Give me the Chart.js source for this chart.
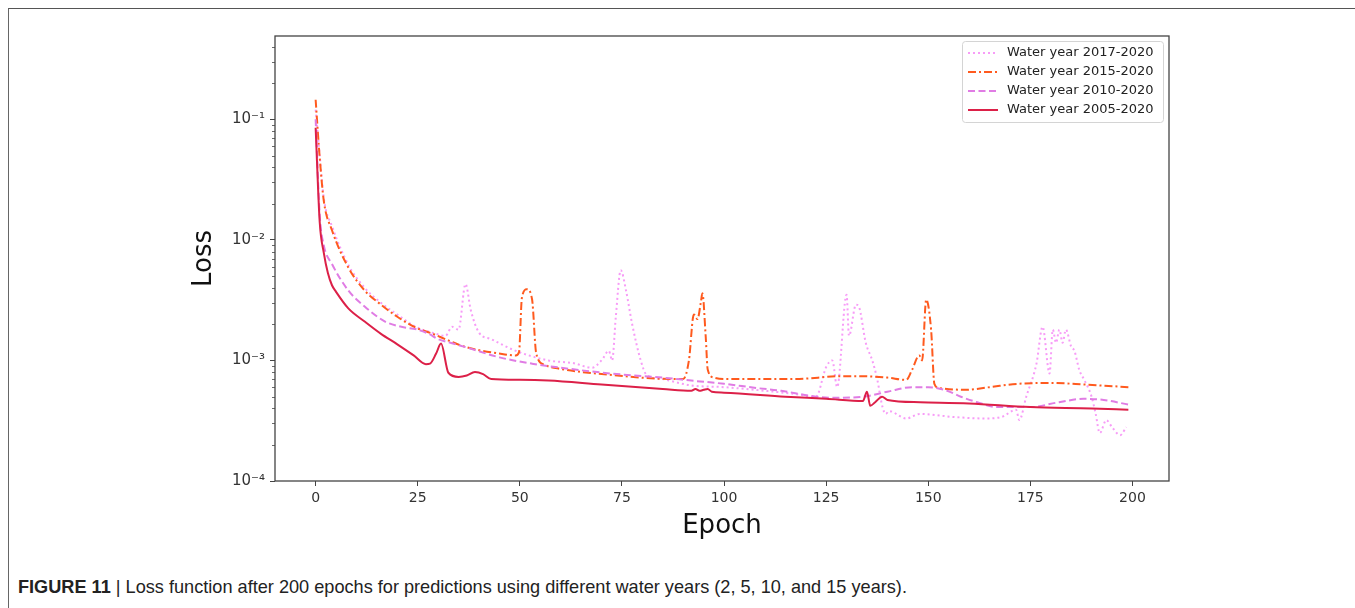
<!DOCTYPE html>
<html>
<head>
<meta charset="utf-8">
<script src="https://cdn.jsdelivr.net/npm/chart.js@4/dist/chart.umd.min.js"></script>
<style>
  body { margin: 0; background: #fff; width: 1355px; height: 608px; overflow: hidden; position: relative; }
  #frame { position: absolute; left: 8px; top: 8px; width: 1400px; height: 700px;
           border-top: 1.5px solid #555; border-left: 1.5px solid #666; }
  #wrap { position: absolute; left: 0; top: 0; }
  #caption { position: absolute; left: 18px; top: 576px; font-family: "Liberation Sans Narrow", "Liberation Sans", sans-serif;
             font-size: 19px; color: #222; white-space: nowrap; transform: scaleX(0.955); transform-origin: left top; }
  #caption b { font-weight: bold; }
</style>
</head>
<body>
<div id="frame"></div>
<div id="wrap"><canvas id="myChart" width="1355" height="560"></canvas></div>
<div id="caption"><b>FIGURE 11</b> | Loss function after 200 epochs for predictions using different water years (2, 5, 10, and 15 years).</div>
<script>
const seriesNames = ['Water year 2017-2020', 'Water year 2015-2020', 'Water year 2010-2020', 'Water year 2005-2020'];

const epochs2017 = [0, 1, 2, 4, 8, 12, 16, 20, 24.5, 28.5, 31.8, 33.4, 35, 36.7, 38, 40, 43, 49, 57, 63, 67.7, 70, 71.8, 72.6, 73.5, 74.7, 76, 77.5, 79.6, 81, 84, 92, 100, 110, 116.7, 122.5, 125, 126.5, 127.7, 130, 130.6, 132.3, 133, 134.7, 136.3, 137.5, 138.8, 139.6, 140.4, 144.6, 148, 156, 164, 168, 171.5, 172.3, 174, 176.5, 178, 179.7, 180.5, 181.3, 182.1, 182.9, 183.7, 185, 185.8, 187, 188.2, 190, 191, 192, 193.6, 195, 197, 198.5];
const loss2017 = [0.12, 0.05, 0.022, 0.013, 0.0062, 0.004, 0.003, 0.0024, 0.0019, 0.0017, 0.0016, 0.0019, 0.0018, 0.0043, 0.0026, 0.0017, 0.0015, 0.0012, 0.001, 0.00095, 0.00087, 0.001, 0.0012, 0.001, 0.0023, 0.0056, 0.0038, 0.002, 0.001, 0.00076, 0.00071, 0.00062, 0.0006, 0.00056, 0.00053, 0.0005, 0.00088, 0.001, 0.0006, 0.0035, 0.0016, 0.0029, 0.0028, 0.0014, 0.001, 0.0007, 0.00041, 0.00036, 0.00038, 0.00033, 0.00036, 0.00034, 0.00033, 0.00034, 0.00039, 0.00032, 0.0005, 0.00094, 0.0019, 0.00078, 0.0018, 0.0014, 0.0018, 0.0014, 0.0018, 0.0013, 0.0012, 0.00083, 0.00069, 0.0005, 0.00036, 0.00025, 0.00032, 0.00028, 0.00024, 0.00028];

const epochs2015 = [0, 1, 2, 4, 8, 12, 16, 20, 24.5, 28.5, 32.6, 36.8, 45, 49, 49.8, 50.5, 51.7, 53, 54, 56, 60, 72, 88, 90, 91.4, 92.6, 93.5, 94.3, 94.7, 95.5, 96, 97.5, 100, 117, 129, 133, 140, 144.6, 146, 147.8, 148.5, 149.5, 150.7, 151.5, 152.7, 159, 165, 172, 180, 188.6, 199];
const loss2015 = [0.145, 0.048, 0.021, 0.012, 0.0059, 0.0038, 0.0029, 0.0023, 0.00187, 0.00167, 0.00146, 0.00129, 0.00114, 0.0011, 0.00117, 0.0033, 0.0039, 0.0032, 0.00115, 0.00092, 0.00085, 0.00076, 0.0007, 0.0007, 0.001, 0.0024, 0.0022, 0.003, 0.0036, 0.0016, 0.00084, 0.00072, 0.0007, 0.0007, 0.00074, 0.00074, 0.00072, 0.00069, 0.00083, 0.0011, 0.001, 0.0032, 0.0018, 0.00064, 0.00059, 0.00057, 0.0006, 0.00064, 0.00065, 0.00063, 0.0006];

const epochs2010 = [0, 1, 2, 4, 8, 12, 17, 21, 25, 27.7, 30, 33, 37, 45, 53, 60, 72, 85, 92, 100, 108, 114, 121, 126, 134, 140, 146, 150, 154, 158, 162, 167, 175, 182, 188, 193, 199];
const loss2010 = [0.1, 0.016, 0.009, 0.0063, 0.0038, 0.0028, 0.0021, 0.0019, 0.0018, 0.00166, 0.0015, 0.0014, 0.00128, 0.00106, 0.00094, 0.00087, 0.00078, 0.00072, 0.00068, 0.00064, 0.00059, 0.00056, 0.00051, 0.00049, 0.0005, 0.00055, 0.0006, 0.0006, 0.00057, 0.0005, 0.00045, 0.00041, 0.00041, 0.00045, 0.00048, 0.00047, 0.00043];

const epochs2005 = [0, 1, 2, 3, 4, 5, 8, 12, 16, 20, 24, 27, 28, 29.5, 30.7, 32.5, 35, 37, 39, 41, 43, 50, 57, 70, 85, 92, 93, 94, 95, 96, 97, 100, 115, 125, 134, 135, 135.8, 137, 138.7, 140, 148, 160, 175, 190, 199];
const loss2005 = [0.085, 0.014, 0.0078, 0.0053, 0.0042, 0.0037, 0.0027, 0.0021, 0.00166, 0.00136, 0.0011, 0.00093, 0.00094, 0.00114, 0.00138, 0.00079, 0.00073, 0.00075, 0.0008, 0.00077, 0.0007, 0.00069, 0.00068, 0.00063, 0.00058, 0.00056, 0.00058, 0.00056, 0.00057, 0.00058, 0.00055, 0.00054, 0.0005, 0.00048, 0.00046, 0.00055, 0.00042, 0.00045, 0.0005, 0.00047, 0.00045, 0.00044, 0.00041, 0.0004, 0.00039];

const xTicks = [0, 25, 50, 75, 100, 125, 150, 175, 200];
const yTicks = [1e-4, 1e-3, 1e-2, 1e-1];
const yTickLabels = ['10\u207B\u2074', '10\u207B\u00B3', '10\u207B\u00B2', '10\u207B\u00B9'];

const pts = (xs, ys) => xs.map((x, i) => ({x: x, y: ys[i]}));

// matplotlib-like extras: full box, minor log ticks, legend inside the axes
const extras = {
    id: 'extras',
    afterDatasetsDraw(chart) {
        const ctx = chart.ctx;
        const a = chart.chartArea;
        const ys = chart.scales.y;
        ctx.save();
        // minor ticks
        ctx.strokeStyle = '#444';
        ctx.lineWidth = 0.8;
        for (let e = -4; e < 0; e++) {
            for (let m = 2; m < 10; m++) {
                const v = m * Math.pow(10, e);
                if (v > ys.max) continue;
                const py = Math.round(ys.getPixelForValue(v)) + 0.5;
                ctx.beginPath();
                ctx.moveTo(a.left - 3, py);
                ctx.lineTo(a.left, py);
                ctx.stroke();
            }
        }
        // spines
        ctx.strokeStyle = '#444';
        ctx.lineWidth = 1.3;
        ctx.strokeRect(a.left, a.top, a.right - a.left, a.bottom - a.top);

        // legend
        const bx = a.right - 207, by = a.top + 5, bw = 201, bh = 81;
        ctx.fillStyle = 'rgba(255,255,255,0.85)';
        ctx.strokeStyle = '#d4d4d4';
        ctx.lineWidth = 1;
        ctx.beginPath();
        ctx.roundRect(bx + 0.5, by + 0.5, bw, bh, 3);
        ctx.fill();
        ctx.stroke();
        ctx.font = '13px "DejaVu Sans"';
        ctx.textBaseline = 'middle';
        chart.data.datasets.forEach((ds, i) => {
            const ly = by + 12 + i * 19;
            ctx.strokeStyle = ds.borderColor;
            ctx.lineWidth = ds.borderWidth;
            ctx.setLineDash(ds.borderDash || []);
            ctx.beginPath();
            ctx.moveTo(bx + 6, ly);
            ctx.lineTo(bx + 36, ly);
            ctx.stroke();
            ctx.setLineDash([]);
            ctx.fillStyle = '#222';
            ctx.fillText(ds.label, bx + 45, ly);
        });
        ctx.restore();
    }
};

const ctx = document.getElementById('myChart').getContext('2d');

const myChart = new Chart(ctx, {
    type: 'line',
    data: {
        datasets: [{
            label: seriesNames[0],
            data: pts(epochs2017, loss2017),
            borderColor: '#f79cf7',
            borderWidth: 2,
            borderDash: [2, 3],
            order: 4
        }, {
            label: seriesNames[1],
            data: pts(epochs2015, loss2015),
            borderColor: '#ff5a1e',
            borderWidth: 2,
            borderDash: [8, 3, 2, 3],
            order: 3
        }, {
            label: seriesNames[2],
            data: pts(epochs2010, loss2010),
            borderColor: '#e07ce4',
            borderWidth: 2,
            borderDash: [7, 3.5],
            order: 2
        }, {
            label: seriesNames[3],
            data: pts(epochs2005, loss2005),
            borderColor: '#dc2048',
            borderWidth: 2,
            order: 1
        }]
    },
    options: {
        responsive: false,
        maintainAspectRatio: false,
        animation: false,
        devicePixelRatio: 1,
        layout: { padding: { left: 189, top: 36, right: 186, bottom: 18 } },
        elements: {
            point: { radius: 0 },
            line: { cubicInterpolationMode: 'monotone', fill: false }
        },
        scales: {
            x: {
                type: 'linear',
                min: -9.95,
                max: 208.95,
                afterBuildTicks: (s) => { s.ticks = xTicks.map(v => ({value: v})); },
                afterFit: (s) => { s.height = 61; },
                border: { display: false },
                grid: { drawOnChartArea: false, tickLength: 5, tickColor: '#444', tickWidth: 1 },
                ticks: {
                    autoSkip: false, maxRotation: 0, padding: 4, color: '#333',
                    font: { family: 'DejaVu Sans', size: 14 }
                },
                title: {
                    display: true, text: 'Epoch', color: '#111', padding: 0,
                    font: { family: 'DejaVu Sans', size: 26 }
                }
            },
            y: {
                type: 'logarithmic',
                min: 1e-4,
                max: 0.49,
                afterBuildTicks: (s) => { s.ticks = yTicks.map(v => ({value: v, major: true})); },
                afterFit: (s) => { s.width = 86; },
                border: { display: false },
                grid: { drawOnChartArea: false, tickLength: 5, tickColor: '#444', tickWidth: 1 },
                ticks: {
                    autoSkip: false, padding: 5, color: '#333',
                    font: { family: 'DejaVu Sans', size: 15 },
                    callback: (v) => { const i = yTicks.indexOf(v); return i >= 0 ? yTickLabels[i] : ''; }
                },
                title: {
                    display: true, text: 'Loss', color: '#111', padding: 0,
                    font: { family: 'DejaVu Sans', size: 26 }
                }
            }
        },
        plugins: {
            legend: { display: false },
            tooltip: { enabled: false }
        }
    },
    plugins: [extras]
});
</script>
</body>
</html>
